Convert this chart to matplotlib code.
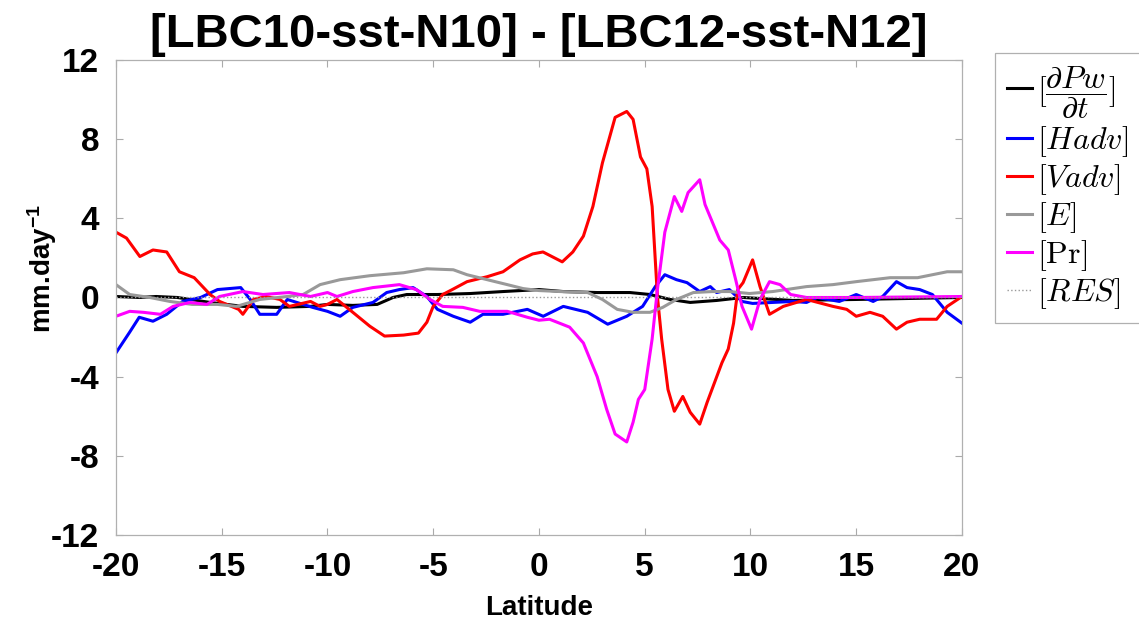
import numpy as np
import matplotlib
matplotlib.use("Agg")
import matplotlib.pyplot as plt

plt.rcParams['font.family'] = ['Liberation Sans', 'DejaVu Sans']
plt.rcParams['axes.unicode_minus'] = False
plt.rcParams['mathtext.fontset'] = 'custom'
plt.rcParams['mathtext.rm'] = 'Liberation Sans:bold'
plt.rcParams['mathtext.it'] = 'Liberation Sans:bold:italic'

# values (latitude, mm/day)
lat_dpw = [-20, -18.9, -18.1, -17.1, -15.55, -14.0, -12.4, -10.8, -10.0, -8.8, -7.65, -6.9,
           -6.25, -4.8, -3.25, -1.7, 0.0, 1.15, 2.75, 4.3, 5.25, 6.2, 7.15, 8.4, 9.65, 12.0,
           15.0, 20.0]
dpw = [0.05, 0.0, 0.05, 0.0, -0.25, -0.45, -0.5, -0.45, -0.35, -0.4, -0.35, 0.0,
       0.15, 0.15, 0.2, 0.3, 0.4, 0.3, 0.25, 0.25, 0.15, -0.1, -0.25, -0.15, 0.0, -0.15,
       -0.1, 0.0]

lat_hadv = [-20, -19.35, -18.9, -18.25, -17.6, -16.85, -16.0, -15.2, -14.1, -13.65, -13.2,
            -12.4, -11.9, -11.45, -10.7, -10.0, -9.4, -8.8, -7.85, -7.2, -6.6, -5.95, -5.3,
            -4.8, -4.05, -3.25, -2.65, -1.7, -0.55, 0.2, 1.15, 2.3, 3.25, 4.15, 4.9, 5.5,
            5.95, 6.5, 7.0, 7.6, 8.1, 8.4, 9.0, 9.6, 10.1, 11.05, 12.0, 12.65, 13.15, 14.2,
            15.0, 15.8, 16.25, 16.9, 17.4, 18.0, 18.6, 19.3, 20.0]
hadv = [-2.8, -1.75, -1.0, -1.2, -0.85, -0.2, 0.0, 0.4, 0.5, -0.1, -0.85,
        -0.85, -0.1, -0.25, -0.5, -0.7, -0.95, -0.5, -0.25, 0.25, 0.4, 0.5, 0.05,
        -0.6, -0.95, -1.25, -0.85, -0.85, -0.6, -0.95, -0.45, -0.75, -1.35, -0.95, -0.45, 0.55,
        1.15, 0.9, 0.75, 0.3, 0.55, 0.25, 0.4, -0.2, -0.3, -0.25, -0.2, -0.25, 0.0, -0.2,
        0.15, -0.2, 0.05, 0.8, 0.5, 0.4, 0.15, -0.75, -1.3]

lat_vadv = [-20, -19.5, -18.87, -18.25, -17.6, -17.0, -16.3, -15.55, -15.1, -14.2, -14.0,
            -13.5, -12.9, -12.25, -11.8, -10.8, -10.35, -10.0, -9.55, -8.8, -8.0, -7.3, -6.4,
            -5.7, -5.3, -5.0, -4.55, -4.1, -3.4, -2.45, -1.7, -0.9, -0.3, 0.19, 1.1, 1.6, 2.1,
            2.55, 3.0, 3.6, 4.15, 4.45, 4.8, 5.1, 5.35, 5.6, 5.8, 6.1, 6.4, 6.8, 7.15, 7.6,
            7.95, 8.3, 8.65, 8.95, 9.2, 9.4, 9.65, 10.1, 10.45, 10.9, 11.55, 12.65, 13.9,
            14.55, 15.0, 15.65, 16.25, 16.9, 17.4, 18.0, 18.8, 19.3, 20.0]
vadv = [3.3, 3.0, 2.07, 2.4, 2.3, 1.3, 1.0, 0.15, -0.2, -0.6, -0.85,
        -0.1, 0.05, -0.1, -0.45, -0.2, -0.45, -0.35, -0.1, -0.75, -1.45, -1.95, -1.9,
        -1.8, -1.25, -0.45, 0.15, 0.4, 0.8, 1.05, 1.3, 1.9, 2.2, 2.3, 1.8, 2.3, 3.1,
        4.6, 6.8, 9.1, 9.4, 9.0, 7.1, 6.5, 4.6, 0.05, -2.1, -4.65, -5.75, -5.0, -5.8, -6.4,
        -5.3, -4.3, -3.3, -2.6, -1.3, 0.4, 0.75, 1.9, 0.55, -0.85, -0.45, -0.1, -0.45,
        -0.6, -0.95, -0.75, -0.95, -1.6, -1.25, -1.1, -1.1, -0.45, 0.05]

lat_e = [-20, -19.35, -18.4, -17.45, -16.4, -15.2, -14.3, -13.2, -11.9, -11.15, -10.35,
         -9.4, -8.0, -6.4, -5.3, -4.05, -3.4, -2.45, -1.5, -0.75, 0.0, 1.0, 2.3, 3.0, 3.7,
         4.45, 5.25, 5.85, 6.5, 7.3, 8.2, 9.0, 9.95, 11.05, 12.65, 13.9, 15.0, 15.8, 16.6,
         17.9, 18.6, 19.3, 20.0]
evap = [0.65, 0.15, 0.0, -0.2, -0.35, -0.35, -0.45, -0.1, 0.05, 0.15, 0.65,
        0.9, 1.1, 1.25, 1.45, 1.4, 1.15, 0.9, 0.65, 0.45, 0.35, 0.3, 0.25, -0.1, -0.6,
        -0.75, -0.75, -0.5, -0.1, 0.25, 0.3, 0.3, 0.2, 0.3, 0.55, 0.65, 0.8, 0.9, 1.0,
        1.0, 1.15, 1.3, 1.3]

lat_pr = [-20, -19.35, -18.7, -17.9, -17.3, -16.5, -15.7, -15.1, -14.0, -13.05, -11.8,
          -10.8, -10.0, -9.55, -8.8, -7.85, -6.6, -5.8, -5.15, -4.55, -3.6, -2.8, -1.5,
          -0.55, 0.0, 0.5, 1.45, 2.1, 2.75, 3.2, 3.6, 4.15, 4.45, 4.7, 5.0, 5.35, 5.6, 5.95,
          6.4, 6.75, 7.05, 7.6, 7.85, 8.2, 8.55, 8.95, 9.3, 9.6, 10.05, 10.45, 10.9, 11.4,
          11.9, 12.65, 15.0, 20.0]
pr = [-0.95, -0.7, -0.75, -0.85, -0.45, -0.25, -0.35, 0.05, 0.3, 0.15, 0.25,
      0.05, 0.25, 0.05, 0.3, 0.5, 0.65, 0.4, -0.1, -0.45, -0.5, -0.7, -0.7,
      -1.0, -1.15, -1.1, -1.5, -2.3, -4.0, -5.65, -6.9, -7.3, -6.3, -5.15, -4.65, -2.1, 0.4, 3.3,
      5.1, 4.35, 5.3, 5.95, 4.7, 3.8, 2.9, 2.4, 0.9, -0.45, -1.6, -0.1, 0.8, 0.65,
      0.15, 0.0, 0.0, 0.05]

lat_res = [-20, 20]
res = [0.0, 0.0]

fig = plt.figure(figsize=(11.39, 6.23), dpi=100)
ax = fig.add_axes([0.1018, 0.1413, 0.7428, 0.7624])

ax.plot(lat_dpw, dpw, color='black', lw=2.2, label=r'$[\dfrac{\partial Pw}{\partial t}]$')
ax.plot(lat_hadv, hadv, color='blue', lw=2.2, label=r'$[Hadv]$')
ax.plot(lat_vadv, vadv, color='red', lw=2.2, label=r'$[Vadv]$')
ax.plot(lat_e, evap, color='#999999', lw=2.2, label=r'$[E]$')
ax.plot(lat_pr, pr, color='magenta', lw=2.2, label=r'$[\mathrm{Pr}]$')
ax.plot(lat_res, res, color='#999999', lw=1.0, ls=':', label=r'$[RES]$')

ax.set_xlim(-20, 20)
ax.set_ylim(-12, 12)
ax.set_xticks(np.arange(-20, 21, 5))
ax.set_yticks(np.arange(-12, 13, 4))
ax.tick_params(direction='in', length=5, width=0.8, color='#aaaaaa',
               top=True, right=True, labelsize=24, pad=12)
for lab in ax.get_xticklabels() + ax.get_yticklabels():
    lab.set_fontweight('bold')
for sp in ax.spines.values():
    sp.set_color('#b0b0b0')
    sp.set_linewidth(0.9)

ax.set_title('[LBC10-sst-N10] - [LBC12-sst-N12]', fontsize=34, fontweight='bold', pad=9)
ax.set_xlabel('Latitude', fontsize=20, fontweight='bold', labelpad=9)
ax.set_ylabel(r'mm.day$^{\mathrm{-1}}$', fontsize=20, fontweight='bold')
ax.yaxis.set_label_coords(-0.067, 0.56)

leg = fig.legend(loc='upper left', bbox_to_anchor=(0.874, 0.915),
                 prop={'size': 23, 'math_fontfamily': 'cm'},
                 handlelength=0.8, handletextpad=0.15, labelspacing=0.1,
                 borderpad=0.35, borderaxespad=0, fancybox=False, framealpha=1)
leg.get_frame().set_edgecolor('#b0b0b0')
leg.get_frame().set_linewidth(0.9)

fig.savefig('out.png', dpi=100)
